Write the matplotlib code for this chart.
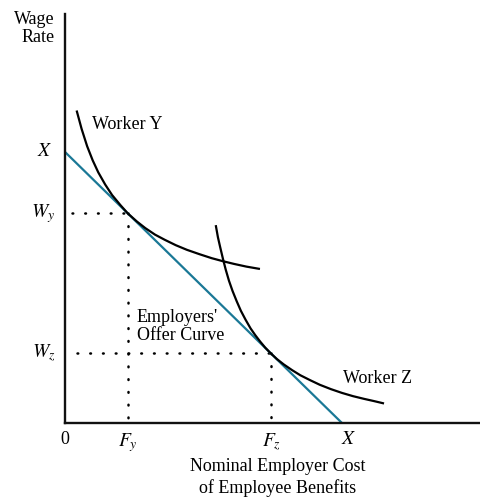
import matplotlib.pyplot as plt

plt.rcParams['font.family'] = ['Liberation Serif', 'DejaVu Serif']
plt.rcParams['mathtext.fontset'] = 'stix'

# axis intercepts of the employers' offer curve
X = 10.0
offer_x = [0.0, X]
offer_y = [X, 0.0]

# tangency points
Fy, Wy = 2.27, 7.73
Fz, Wz = 7.42, 2.58

# Worker Y indifference curve
worker_y_x = [0.43, 0.6, 0.8, 1.0, 1.2, 1.45, 1.7, 2.0, 2.27, 2.6, 2.9, 3.25, 3.6, 4.0,
              4.4, 4.85, 5.3, 5.7, 6.1, 6.55, 7.0]
worker_y_y = [11.49, 10.85, 10.21, 9.69, 9.25, 8.80, 8.41, 8.04, 7.73, 7.43, 7.19, 6.95,
              6.76, 6.56, 6.39, 6.23, 6.08, 5.97, 5.87, 5.77, 5.69]

# Worker Z indifference curve
worker_z_x = [5.45, 5.52, 5.6, 5.7, 5.8, 5.92, 6.05, 6.2, 6.35, 6.52, 6.7, 6.87, 7.05,
              7.23, 7.42, 7.65, 7.9, 8.2, 8.5, 8.85, 9.2, 9.6, 10.0, 10.4, 10.8, 11.15, 11.48]
worker_z_y = [7.26, 6.86, 6.50, 6.07, 5.67, 5.25, 4.87, 4.49, 4.14, 3.81, 3.49, 3.24, 3.00,
              2.78, 2.58, 2.36, 2.16, 1.95, 1.76, 1.58, 1.41, 1.25, 1.11, 0.99, 0.89, 0.81, 0.73]

teal = '#1a7896'

fig = plt.figure(figsize=(4.81, 4.98), dpi=100)
ax = fig.add_axes([65 / 481, 75 / 498, 416 / 481, 409 / 498])
ax.set_xlim(0, 15.02)
ax.set_ylim(0, 15.09)
for s in ['top', 'right']:
    ax.spines[s].set_visible(False)
for s in ['left', 'bottom']:
    ax.spines[s].set_linewidth(1.7)
    ax.spines[s].set_color('#111111')
ax.set_xticks([])
ax.set_yticks([])

dots = dict(color='black', lw=1.8, linestyle=(0, (0.3, 4.8)), dash_capstyle='round')
ax.plot([0.25, Fy], [Wy, Wy], **dots)
ax.plot([Fy, Fy], [Wy, 0.1], **dots)
ax.plot([0.45, Fz], [Wz, Wz], **dots)
ax.plot([Fz, Fz], [Wz, 0.1], **dots)

ax.plot(offer_x, offer_y, color=teal, lw=1.6, solid_capstyle='butt')
ax.plot(worker_y_x, worker_y_y, color='black', lw=1.6)
ax.plot(worker_z_x, worker_z_y, color='black', lw=1.6)

fs = 13
ax.text(-0.36, 15.2, 'Wage\nRate', ha='right', va='top', ma='right', fontsize=fs,
        linespacing=1.1, clip_on=False)
ax.text(-0.45, X, '$X$', ha='right', va='center', fontsize=fs + 1, clip_on=False)
ax.text(-0.36, Wy, '$W_y$', ha='right', va='center', fontsize=fs + 1, clip_on=False)
ax.text(-0.36, Wz, '$W_z$', ha='right', va='center', fontsize=fs + 1, clip_on=False)

ax.text(0, -0.6, '0', ha='center', va='center', fontsize=fs, clip_on=False)
ax.text(Fy, -0.72, '$F_y$', ha='center', va='center', fontsize=fs + 1, clip_on=False)
ax.text(Fz + 0.05, -0.72, '$F_z$', ha='center', va='center', fontsize=fs + 1, clip_on=False)
ax.text(10.25, -0.6, '$X$', ha='center', va='center', fontsize=fs + 1, clip_on=False)
ax.text(7.69, -1.3, 'Nominal Employer Cost\nof Employee Benefits', ha='center', va='top',
        fontsize=fs, linespacing=1.25, clip_on=False)

ax.text(0.97, 11.03, 'Worker Y', ha='left', va='center', fontsize=fs)
ax.text(2.6, 3.56, "Employers'\nOffer Curve", ha='left', va='center', fontsize=fs,
        linespacing=1.1)
ax.text(10.04, 1.66, 'Worker Z', ha='left', va='center', fontsize=fs)

fig.savefig('out.png', dpi=100)
